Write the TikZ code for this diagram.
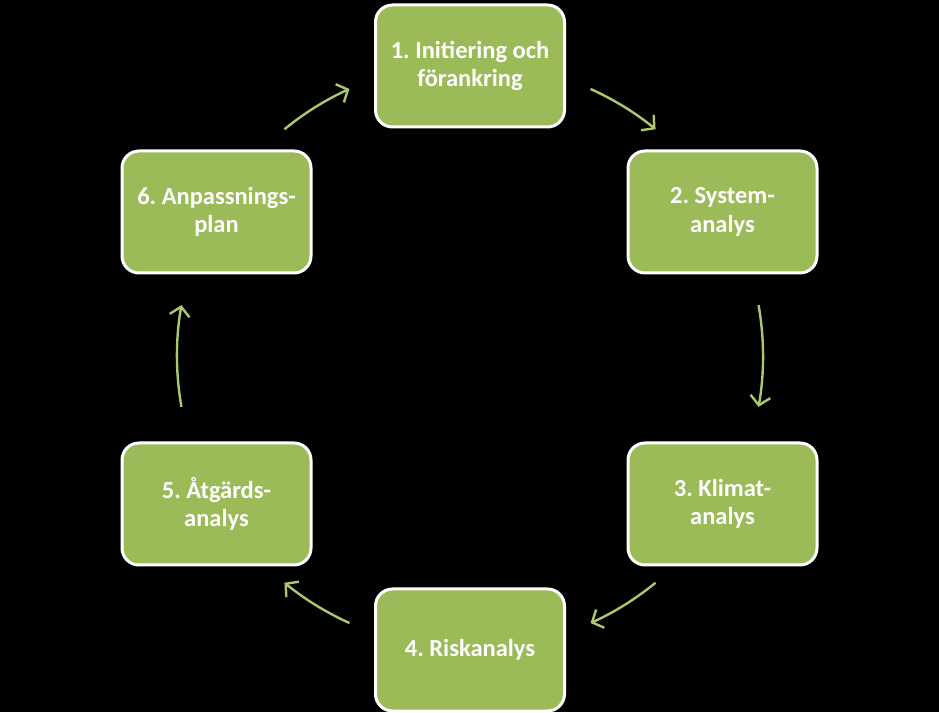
\documentclass[tikz,border=0pt]{standalone}
\usepackage{fontspec}
\setmainfont{Carlito}
\usetikzlibrary{arrows.meta}
\definecolor{stepgreen}{RGB}{155,187,89}
\definecolor{loopgreen}{RGB}{172,200,108}
\frenchspacing

\begin{document}
\begin{tikzpicture}[x=1pt, y=1pt,
    stepbox/.style={rectangle, rounded corners=17pt, draw=white, line width=3pt,
        fill=stepgreen, minimum width=189pt, minimum height=122pt,
        align=center, text=white, font=\fontsize{24.5}{28.5}\selectfont\bfseries},
    cyc/.style={loopgreen, line width=2.4pt, -{Straight Barb[length=9pt,width=20pt]}}]
    \fill[black] (0,0) rectangle (939,712);
    \useasboundingbox (0,0) rectangle (939,712);
    \coordinate (hub) at (470,356);
    % the six steps
    \node[stepbox] (s1) at (470,646) {1. Initiering och\\förankring};
    \node[stepbox] (s2) at (722.5,500) {2. System-\\analys};
    \node[stepbox] (s3) at (722.5,208) {3. Klimat-\\analys};
    \node[stepbox] (s4) at (470,62) {4. Riskanalys};
    \node[stepbox] (s5) at (216.5,208) {5. Åtgärds-\\analys};
    \node[stepbox] (s6) at (216.5,500) {6. Anpassnings-\\plan};
    % arrows round the cycle
    \foreach \a/\b in {65.7/50.7, 10/-10, -50.7/-65.7, -114.3/-129.3, 190/170, 129.3/114.3}{
        \draw[cyc] ([shift={(\a:293)}]hub) arc[start angle=\a, end angle=\b, radius=293];
    }
\end{tikzpicture}
\end{document}
